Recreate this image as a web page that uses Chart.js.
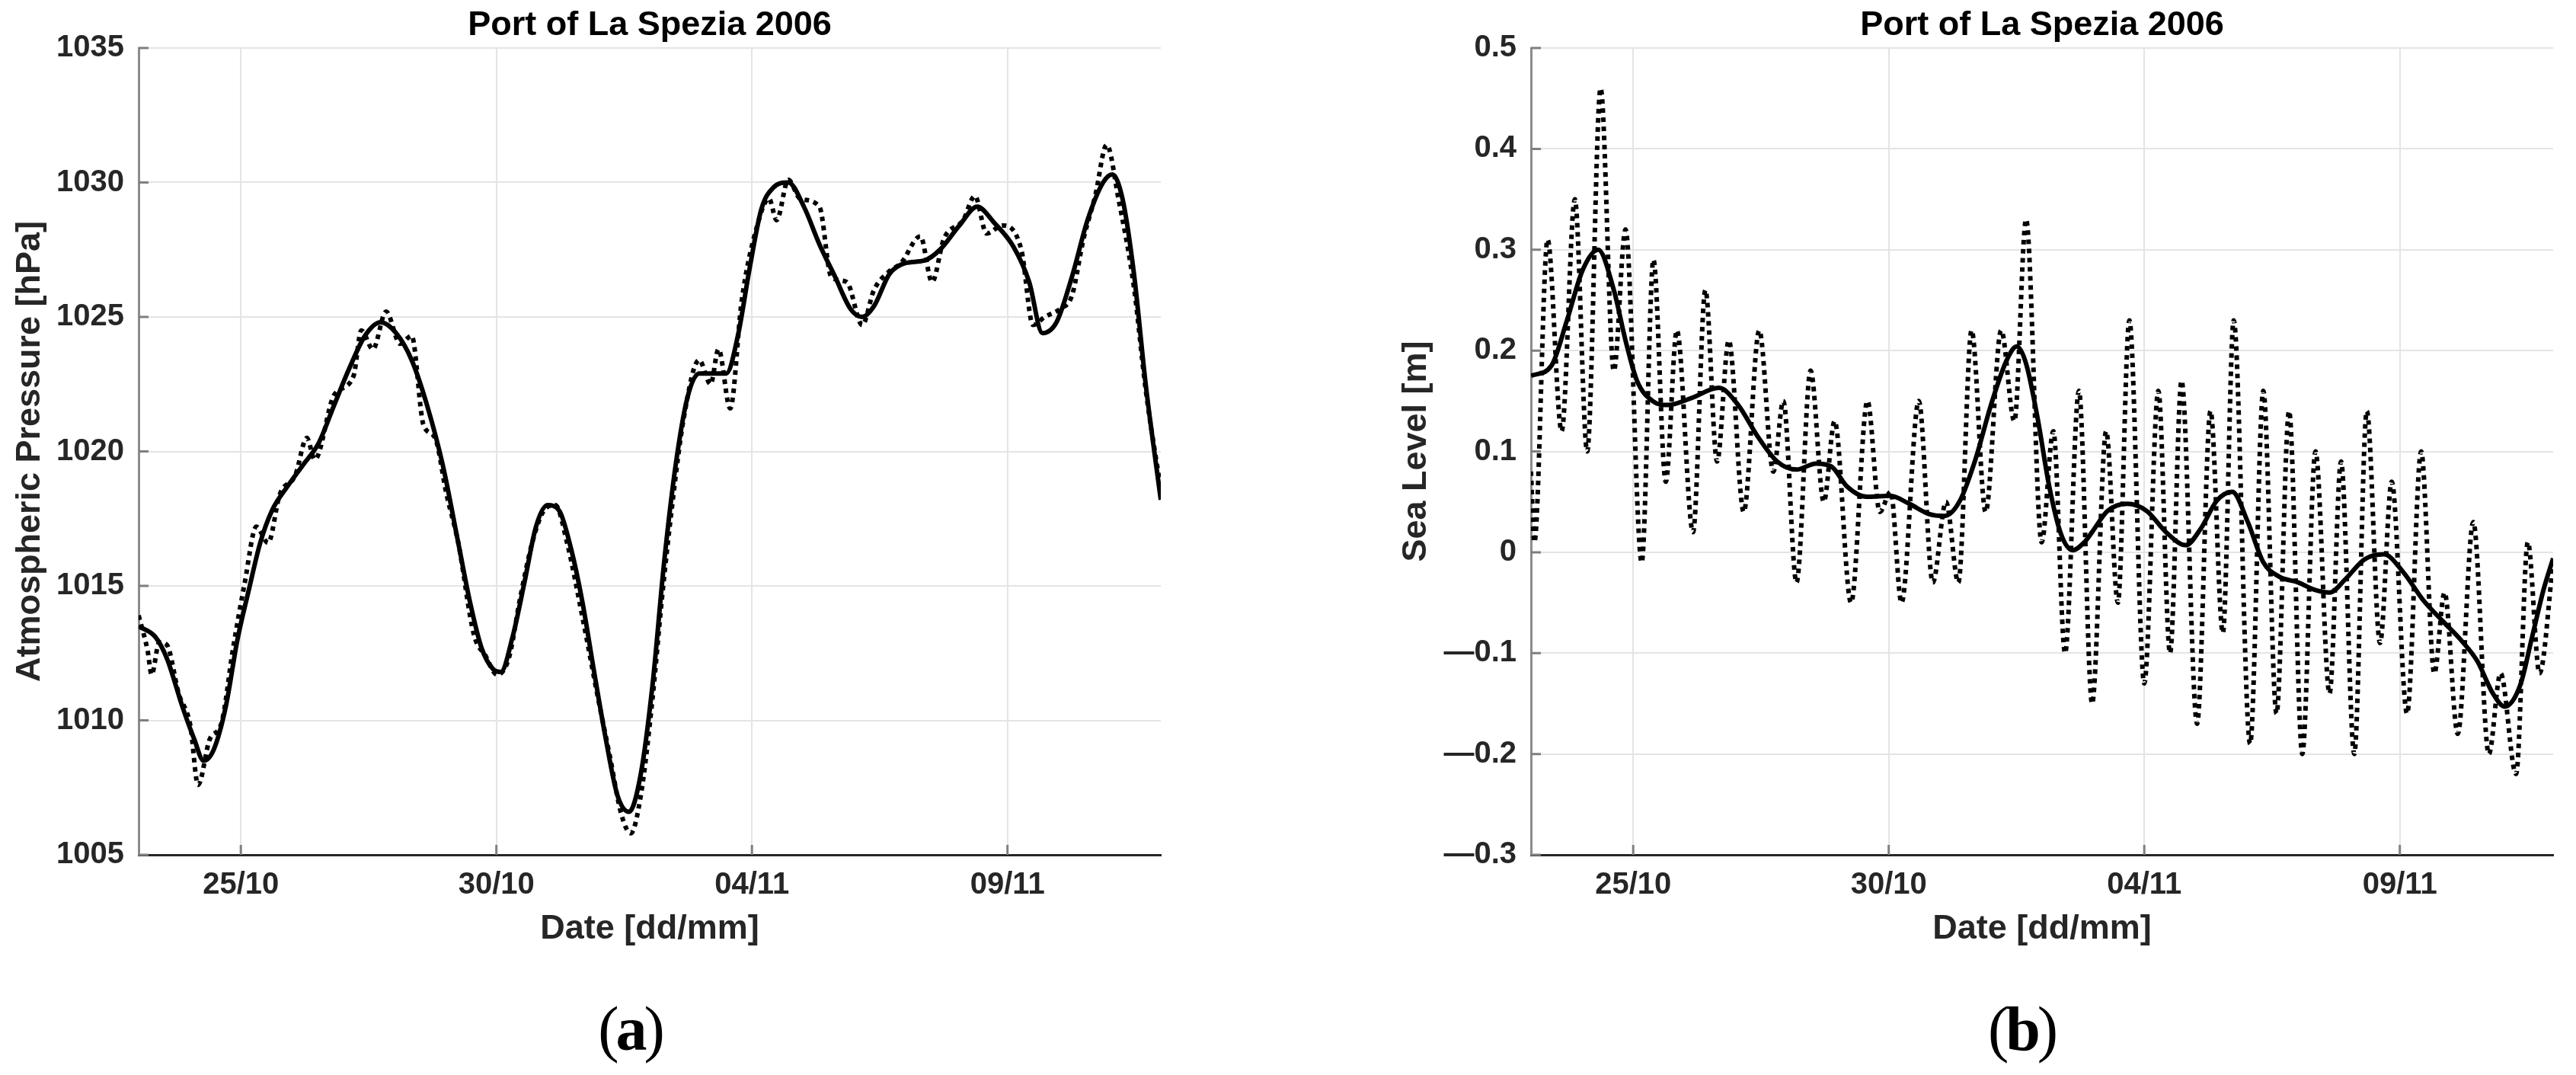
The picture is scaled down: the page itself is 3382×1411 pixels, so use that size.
<!DOCTYPE html>
<html>
<head>
<meta charset="utf-8">
<script src="https://cdn.jsdelivr.net/npm/chart.js@4.4.1/dist/chart.umd.min.js"></script>
<style>
  html, body { margin: 0; padding: 0; background: #fff; }
  body { width: 3382px; height: 1411px; position: relative; overflow: hidden; }
  canvas { position: absolute; top: 0; }
  #cA { left: 0; }
  #cB { left: 1800px; }
  .sub { position: absolute; top: 1310px; width: 400px; text-align: center;
         font-family: "Liberation Serif", "Times New Roman", serif; font-size: 82px;
         line-height: 82px; letter-spacing: -4px; color: #000; }
  .sub b { font-weight: bold; }
</style>
</head>
<body>
<canvas id="cA" width="1544" height="1247"></canvas>
<canvas id="cB" width="1582" height="1247"></canvas>
<div class="sub" style="left:627px">(<b>a</b>)</div>
<div class="sub" style="left:2454px">(<b>b</b>)</div>
<script>
// ---------------- DATA (time in hours since 23/10/2006 00:00) ----------------
const chartTitle = 'Port of La Spezia 2006';
const xAxisTitle = 'Date [dd/mm]';
const dateTickHours = [48, 168, 288, 408];
const dateTickLabels = ['25/10', '30/10', '04/11', '09/11'];

const pressureTitle = 'Atmospheric Pressure [hPa]';
const pressureTickValues = [1005, 1010, 1015, 1020, 1025, 1030, 1035];
const pressureTickLabels = ['1005', '1010', '1015', '1020', '1025', '1030', '1035'];

const pressureSmoothHours = [0, 7.9, 13.3, 20.6, 26.1, 30.5, 35.2, 40.9, 46.4, 51.9, 57.1, 62.6, 69.9, 77.2, 84.5, 91.7, 99.0, 106.3, 113.6, 120.9, 128.2, 135.5, 142.8, 150.1, 155.6, 161.0, 166.5, 170.1, 175.6, 181.1, 186.6, 192.0, 197.5, 203.0, 208.4, 213.9, 219.4, 224.9, 230.3, 235.8, 241.3, 246.8, 252.2, 257.7, 263.2, 270.5, 276.0, 281.4, 286.9, 292.4, 297.9, 305.1, 312.4, 319.7, 327.0, 334.3, 339.8, 345.3, 352.6, 359.9, 369.0, 376.3, 385.4, 393.8, 401.8, 410.9, 418.2, 424.4, 431.0, 438.3, 445.6, 452.9, 457.2, 462.0, 467.4, 472.9, 480];
const pressureSmoothValues = [1013.5, 1013.1, 1012.3, 1010.5, 1009.3, 1008.5, 1008.9, 1010.5, 1013.0, 1014.9, 1016.6, 1017.8, 1018.7, 1019.5, 1020.3, 1021.7, 1023.1, 1024.3, 1024.8, 1024.4, 1023.4, 1021.7, 1019.5, 1016.6, 1014.4, 1012.7, 1011.9, 1011.8, 1013.1, 1015.1, 1017.2, 1018.0, 1017.8, 1016.4, 1014.4, 1011.8, 1009.3, 1007.2, 1006.6, 1008.0, 1011.3, 1015.9, 1019.5, 1022.0, 1022.9, 1022.9, 1022.9, 1024.3, 1026.8, 1029.0, 1029.8, 1030.0, 1029.1, 1027.7, 1026.5, 1025.3, 1025.0, 1025.4, 1026.6, 1027.0, 1027.1, 1027.5, 1028.4, 1029.1, 1028.5, 1027.6, 1026.3, 1024.4, 1024.8, 1026.5, 1028.6, 1030.0, 1030.3, 1029.4, 1026.6, 1022.5, 1018.2];

const pressureRawHours = [0, 4.2, 6.1, 9.7, 13.3, 18.8, 24.3, 27.9, 33.4, 38.9, 44.4, 49.8, 55.3, 60.8, 66.3, 73.5, 79.0, 82.7, 91.8, 100.9, 104.6, 110.0, 116.2, 122.8, 128.2, 133.7, 139.2, 144.6, 150.1, 157.4, 162.9, 168.3, 173.8, 179.3, 184.8, 190.3, 195.7, 201.2, 208.5, 215.8, 221.2, 226.7, 231.1, 235.8, 241.3, 245.7, 250.4, 255.9, 263.2, 268.6, 272.3, 277.8, 283.2, 290.5, 296.0, 299.6, 305.1, 310.6, 319.7, 325.2, 332.5, 339.8, 345.3, 352.6, 358.0, 367.1, 372.6, 378.1, 387.2, 392.7, 398.2, 405.5, 414.5, 420.0, 425.5, 432.8, 438.3, 443.7, 449.2, 454.6, 460.1, 467.4, 472.9, 480];
const pressureRawValues = [1013.9, 1012.6, 1011.7, 1012.9, 1012.8, 1011.0, 1009.8, 1007.6, 1009.3, 1009.9, 1012.7, 1015.1, 1017.2, 1016.6, 1018.4, 1019.1, 1020.5, 1019.7, 1022.1, 1022.8, 1024.5, 1023.8, 1025.2, 1024.0, 1024.3, 1021.0, 1020.5, 1018.4, 1016.6, 1013.2, 1012.4, 1011.7, 1012.3, 1014.6, 1016.6, 1017.8, 1018.0, 1016.6, 1013.8, 1010.8, 1008.7, 1006.5, 1005.8, 1007.2, 1010.8, 1014.5, 1017.9, 1021.2, 1023.4, 1022.5, 1023.8, 1021.6, 1025.6, 1028.4, 1029.4, 1028.6, 1030.1, 1029.4, 1029.1, 1026.5, 1026.3, 1024.7, 1026.0, 1026.7, 1027.0, 1028.0, 1026.3, 1027.9, 1028.6, 1029.5, 1028.1, 1028.4, 1027.5, 1024.7, 1025.0, 1025.3, 1025.8, 1027.9, 1029.5, 1031.4, 1029.4, 1026.1, 1022.3, 1018.6];

const seaTitle = 'Sea Level [m]';
const seaTickValues = [-0.3, -0.2, -0.1, 0, 0.1, 0.2, 0.3, 0.4, 0.5];
const seaTickLabels = ['\u20140.3', '\u20140.2', '\u20140.1', '0', '0.1', '0.2', '0.3', '0.4', '0.5'];

const seaSmoothHours = [0, 9.6, 16.9, 24.3, 31.6, 38.9, 44.4, 49.8, 57.1, 64.4, 75.4, 88.2, 97.3, 106.4, 115.6, 124.7, 133.8, 141.1, 148.5, 157.6, 168.6, 177.7, 186.8, 194.1, 201.4, 208.7, 216.0, 223.3, 228.1, 232.5, 237.9, 243.4, 248.9, 254.4, 259.9, 263.5, 270.8, 280.0, 289.1, 298.2, 307.4, 314.7, 322.0, 329.3, 336.6, 343.9, 351.2, 360.4, 367.7, 375.0, 382.3, 391.4, 400.5, 409.7, 418.8, 428.0, 437.1, 444.4, 451.7, 457.2, 464.5, 470.0, 475.5, 480];
const seaSmoothValues = [0.175, 0.185, 0.23, 0.28, 0.30, 0.26, 0.21, 0.17, 0.15, 0.146, 0.153, 0.163, 0.146, 0.115, 0.09, 0.082, 0.088, 0.085, 0.065, 0.055, 0.056, 0.048, 0.038, 0.036, 0.051, 0.092, 0.146, 0.19, 0.204, 0.187, 0.133, 0.065, 0.018, 0.002, 0.01, 0.02, 0.041, 0.048, 0.041, 0.02, 0.007, 0.024, 0.051, 0.06, 0.03, -0.01, -0.024, -0.03, -0.037, -0.04, -0.027, -0.007, -0.002, -0.02, -0.047, -0.068, -0.088, -0.108, -0.14, -0.153, -0.132, -0.085, -0.037, -0.006];

const seaRawHours = [0, 1.6, 7.8, 14.4, 20.6, 26.4, 32.7, 38.9, 44.4, 52.0, 57.5, 63.3, 68.5, 76.1, 81.9, 87.4, 92.9, 99.9, 107.2, 113.8, 118.5, 124.7, 131.3, 137.5, 142.6, 150.3, 158.0, 163.8, 168.9, 174.0, 182.1, 188.7, 194.9, 200.7, 206.9, 213.5, 220.8, 227.0, 232.5, 239.8, 245.3, 250.8, 257.3, 263.5, 270.1, 275.6, 281.0, 288.0, 294.6, 300.1, 305.5, 312.8, 319.1, 324.9, 330.0, 337.7, 343.9, 350.1, 356.0, 362.2, 368.4, 375.0, 380.4, 386.6, 392.5, 398.7, 404.2, 411.4, 418.0, 424.2, 429.0, 435.2, 442.5, 449.8, 455.3, 462.6, 468.1, 473.6, 480];
const seaRawValues = [0.08, 0.01, 0.31, 0.12, 0.35, 0.10, 0.46, 0.18, 0.32, -0.01, 0.29, 0.07, 0.22, 0.02, 0.26, 0.09, 0.21, 0.04, 0.22, 0.08, 0.15, -0.03, 0.18, 0.05, 0.13, -0.05, 0.15, 0.04, 0.06, -0.05, 0.15, -0.03, 0.05, -0.03, 0.22, 0.04, 0.22, 0.13, 0.33, 0.01, 0.12, -0.10, 0.16, -0.15, 0.12, -0.05, 0.23, -0.13, 0.16, -0.10, 0.17, -0.17, 0.14, -0.08, 0.23, -0.19, 0.16, -0.16, 0.14, -0.20, 0.10, -0.14, 0.09, -0.20, 0.14, -0.09, 0.07, -0.16, 0.10, -0.12, -0.04, -0.18, 0.03, -0.20, -0.12, -0.22, 0.01, -0.12, -0.01];

// ---------------- CHART SETUP ----------------
const FONT = '"Liberation Sans", Arial, Helvetica, sans-serif';
const toPoints = (xs, ys) => xs.map((x, i) => ({ x: x, y: ys[i] }));

const innerTicks = {
  id: 'innerTicks',
  beforeDatasetsDraw(chart) {
    const { ctx, chartArea: a, scales } = chart;
    const x = scales.x, y = scales.y;
    ctx.save();
    ctx.strokeStyle = '#7f7f7f';
    ctx.lineWidth = 3;
    ctx.beginPath();
    y.ticks.forEach(t => { const p = y.getPixelForValue(t.value); ctx.moveTo(a.left, p); ctx.lineTo(a.left + 13, p); });
    x.ticks.forEach(t => { const p = x.getPixelForValue(t.value); ctx.moveTo(p, a.bottom); ctx.lineTo(p, a.bottom - 13); });
    ctx.stroke();
    ctx.restore();
  }
};

function build(canvasId, opts) {
  return new Chart(document.getElementById(canvasId), {
    type: 'line',
    data: {
      datasets: [
        { data: toPoints(opts.smoothX, opts.smoothY), borderColor: '#000', borderWidth: 6,
          pointRadius: 0, fill: false, cubicInterpolationMode: 'monotone' },
        { data: toPoints(opts.rawX, opts.rawY), borderColor: '#000', borderWidth: 6,
          borderDash: [6, 6], pointRadius: 0, fill: false, cubicInterpolationMode: 'monotone' }
      ]
    },
    options: {
      responsive: false,
      animation: false,
      devicePixelRatio: 1,
      layout: { padding: { left: 0, right: opts.padRight, top: 0, bottom: 0 } },
      plugins: {
        legend: { display: false },
        tooltip: { enabled: false },
        title: {
          display: true, text: chartTitle, color: '#000', fullSize: false,
          font: { family: FONT, size: 45, weight: 'bold', lineHeight: 1.2 },
          padding: { top: 7, bottom: 2 }
        }
      },
      scales: {
        x: {
          type: 'linear', min: 0, max: 480,
          afterBuildTicks: s => { s.ticks = dateTickHours.map(v => ({ value: v })); },
          afterFit: s => { s.height = 125; },
          ticks: {
            autoSkip: false, maxRotation: 0, padding: 16, color: '#262626',
            font: { family: FONT, size: 40, weight: 'bold', lineHeight: 1.2 },
            callback: (v, i) => dateTickLabels[i]
          },
          grid: { color: '#e4e4e4', lineWidth: 2, drawTicks: false },
          border: { color: '#262626', width: 3 },
          title: {
            display: true, text: xAxisTitle, color: '#262626',
            font: { family: FONT, size: 45, weight: 'bold', lineHeight: 1.2 },
            padding: { top: 0, bottom: 0 }
          }
        },
        y: {
          type: 'linear', min: opts.yMin, max: opts.yMax,
          afterBuildTicks: s => { s.ticks = opts.yTicks.map(v => ({ value: v })); },
          afterFit: s => { s.width = opts.yWidth; },
          ticks: {
            padding: 19, color: '#262626',
            font: { family: FONT, size: 40, weight: 'bold', lineHeight: 1.2 },
            callback: (v, i) => opts.yLabels[i]
          },
          grid: { color: '#e4e4e4', lineWidth: 2, drawTicks: false },
          border: { color: '#8c8c8c', width: 3 },
          title: {
            display: true, text: opts.yTitle, color: '#262626',
            font: { family: FONT, size: 45, weight: 'bold', lineHeight: 1.2 },
            padding: { top: opts.yTitlePad, bottom: 0 }
          }
        }
      }
    },
    plugins: [innerTicks]
  });
}

build('cA', {
  smoothX: pressureSmoothHours, smoothY: pressureSmoothValues,
  rawX: pressureRawHours, rawY: pressureRawValues,
  yMin: 1005, yMax: 1035, yTicks: pressureTickValues, yLabels: pressureTickLabels,
  yTitle: pressureTitle, yWidth: 182, yTitlePad: 13, padRight: 20
});

build('cB', {
  smoothX: seaSmoothHours, smoothY: seaSmoothValues,
  rawX: seaRawHours, rawY: seaRawValues,
  yMin: -0.3, yMax: 0.5, yTicks: seaTickValues, yLabels: seaTickLabels,
  yTitle: seaTitle, yWidth: 210, yTitlePad: 33, padRight: 30
});
</script>
</body>
</html>
